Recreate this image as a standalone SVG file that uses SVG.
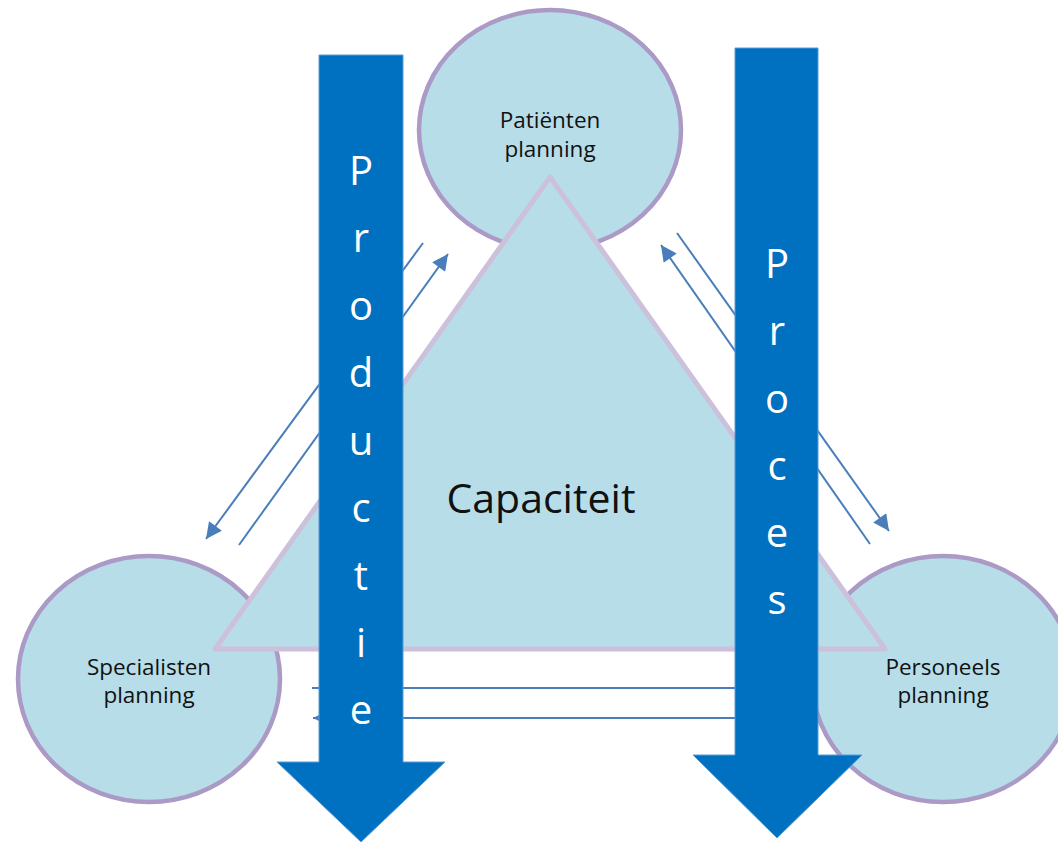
<svg xmlns="http://www.w3.org/2000/svg" width="1058" height="842" viewBox="0 0 1058 842">
<style>
.node{fill:#b7dde8;stroke:#ab9ac6;stroke-width:4.5}
.tri{fill:#b7dde8;stroke:#ccc0db;stroke-width:5;stroke-linejoin:round}
.lbl{font-family:"Open Sans","Noto Sans",sans-serif;font-size:22.5px;fill:#111;text-anchor:middle}
.big{font-family:"Open Sans","Noto Sans",sans-serif;font-size:41px;fill:#111;text-anchor:middle}
.flow{fill:#0070c0;stroke:#5b9bd5;stroke-width:1}
.let{font-family:"Open Sans","Noto Sans",sans-serif;font-size:40px;fill:#fff;text-anchor:middle}
.con{stroke:#4a7ebb;stroke-width:2;fill:none}
</style>
<defs>
<marker id="ah" viewBox="0 0 10 10" refX="10" refY="5" markerWidth="10" markerHeight="8" orient="auto" markerUnits="strokeWidth">
<path d="M0,0 L10,5 L0,10 z" fill="#4a7ebb"/>
</marker>
</defs>
<rect width="1058" height="842" fill="#fff"/>
<g id="node-patienten">
<ellipse class="node" cx="550" cy="130" rx="131" ry="120"/>
</g>
<g id="node-specialisten">
<ellipse class="node" cx="149" cy="679" rx="131" ry="123"/>
</g>
<g id="node-personeels">
<ellipse class="node" cx="943" cy="679" rx="131" ry="123"/>
</g>
<g id="node-capaciteit">
<polygon class="tri" points="550,177 885,649 215,649"/>
<text class="big" x="541" y="513">Capaciteit</text>
</g>
<g id="labels">
<text class="lbl" x="550" y="128">Patiënten</text>
<text class="lbl" x="550" y="157">planning</text>
<text class="lbl" x="149" y="675">Specialisten</text>
<text class="lbl" x="149" y="703">planning</text>
<text class="lbl" x="943" y="675">Personeels</text>
<text class="lbl" x="943" y="703">planning</text>
</g>
<g id="connectors">
<line class="con" x1="423" y1="243" x2="206" y2="539" marker-end="url(#ah)"/>
<line class="con" x1="239" y1="545" x2="448" y2="254" marker-end="url(#ah)"/>
<line class="con" x1="677" y1="233" x2="889" y2="531" marker-end="url(#ah)"/>
<line class="con" x1="870" y1="544" x2="661" y2="245" marker-end="url(#ah)"/>
<line class="con" x1="312" y1="688" x2="760" y2="688"/>
<line class="con" x1="760" y1="718" x2="313" y2="718" marker-end="url(#ah)"/>
</g>
<g id="node-productie">
<polygon class="flow" points="319,55 403,55 403,762 445,762 361,842 277,762 319,762"/>
<text class="let" x="361" y="185">P</text>
<text class="let" x="361" y="252">r</text>
<text class="let" x="361" y="320">o</text>
<text class="let" x="361" y="387">d</text>
<text class="let" x="361" y="455">u</text>
<text class="let" x="361" y="522">c</text>
<text class="let" x="361" y="590">t</text>
<text class="let" x="361" y="657">i</text>
<text class="let" x="361" y="724">e</text>
</g>
<g id="node-proces">
<polygon class="flow" points="735,48 818,48 818,755 862,755 777,838 693,755 735,755"/>
<text class="let" x="777" y="278">P</text>
<text class="let" x="777" y="345">r</text>
<text class="let" x="777" y="413">o</text>
<text class="let" x="777" y="480">c</text>
<text class="let" x="777" y="547">e</text>
<text class="let" x="777" y="614">s</text>
</g>
</svg>
